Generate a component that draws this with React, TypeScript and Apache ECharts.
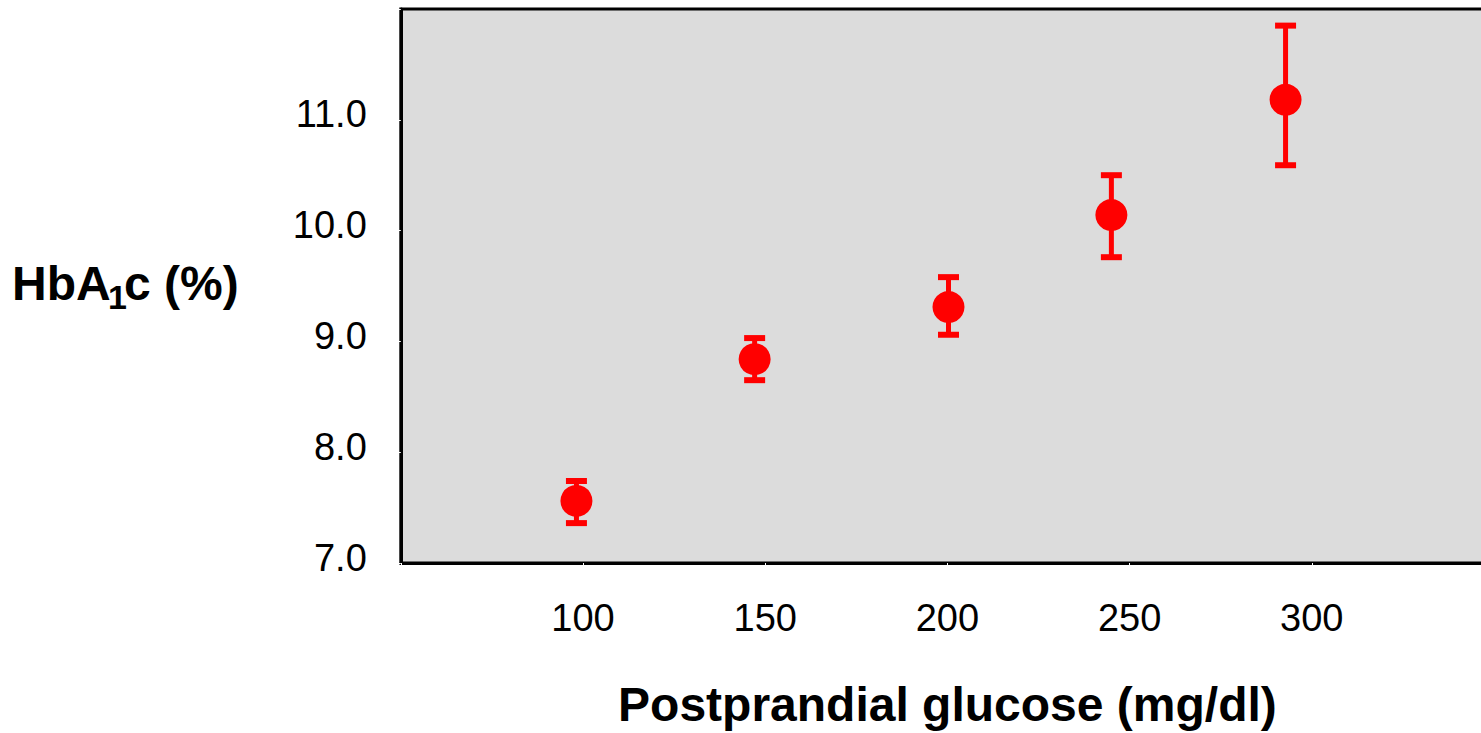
import React, { useEffect, useRef } from "react";
import * as echarts from "echarts";

// Postprandial glucose groups (mg/dl) and HbA1c mean with interval limits (%)
const glucose = [98.2, 147.1, 200.3, 245.0, 292.8];
const hba1cMean = [7.56, 8.84, 9.31, 10.14, 11.18];
const hba1cLow = [7.36, 8.65, 9.06, 9.76, 10.59];
const hba1cHigh = [7.74, 9.03, 9.58, 10.5, 11.85];

const xTicks = [100, 150, 200, 250, 300];
const yTicks = [7, 8, 9, 10, 11];

const FONT = "'Liberation Sans', Arial, Helvetica, sans-serif";
const RED = "#ff0000";

export default function App() {
  const ref = useRef<HTMLDivElement>(null);

  useEffect(() => {
    if (!ref.current) return;
    const chart = echarts.init(ref.current, undefined, { renderer: "svg" });

    const meanData = glucose.map((g, i) => [g, hba1cMean[i]]);
    const barData = glucose.map((g, i) => [g, hba1cLow[i], hba1cHigh[i]]);

    chart.setOption({
      animation: false,
      backgroundColor: "#ffffff",
      grid: {
        left: 400.8,
        width: 1095.5,
        top: 9,
        height: 556.5,
        show: true,
        backgroundColor: "#dcdcdc",
        borderColor: "#000000",
        borderWidth: 3,
      },
      xAxis: {
        type: "value",
        min: 50,
        max: 350,
        interval: 50,
        splitLine: { show: false },
        axisLine: { show: true, lineStyle: { color: "#000000", width: 3 } },
        axisTick: { show: true, length: 2, lineStyle: { color: "#ffffff", width: 1 } },
        axisLabel: {
          color: "#000000",
          fontFamily: FONT,
          fontSize: 38,
          margin: 36,
          formatter: (v: number) => (xTicks.includes(v) ? String(v) : ""),
        },
        name: "Postprandial glucose (mg/dl)",
        nameLocation: "middle",
        nameGap: 117,
        nameTextStyle: {
          color: "#000000",
          fontFamily: FONT,
          fontSize: 48,
          fontWeight: "bold",
        },
      },
      yAxis: {
        type: "value",
        min: 7,
        max: 12,
        interval: 1,
        splitLine: { show: false },
        axisLine: { show: true, lineStyle: { color: "#000000", width: 3 } },
        axisTick: { show: true, length: 2, lineStyle: { color: "#ffffff", width: 1 } },
        axisLabel: {
          color: "#000000",
          fontFamily: FONT,
          fontSize: 38,
          margin: 34,
          verticalAlign: "bottom",
          lineHeight: 11,
          formatter: (v: number) => (yTicks.includes(v) ? v.toFixed(1) : ""),
        },
      },
      graphic: [
        {
          type: "text",
          style: {
            text: "HbA",
            x: 12,
            y: 283,
            font: `bold 48px ${FONT}`,
            fill: "#000000",
            verticalAlign: "middle",
          },
        },
        {
          type: "text",
          style: {
            text: "1",
            x: 108,
            y: 297,
            font: `bold 34px ${FONT}`,
            fill: "#000000",
            verticalAlign: "middle",
          },
        },
        {
          type: "text",
          style: {
            text: "c (%)",
            x: 124,
            y: 283,
            font: `bold 48px ${FONT}`,
            fill: "#000000",
            verticalAlign: "middle",
          },
        },
      ],
      series: [
        {
          type: "custom",
          data: barData,
          encode: { x: 0, y: [1, 2] },
          z: 2,
          renderItem: (_params: any, api: any) => {
            const x = api.value(0);
            const top = api.coord([x, api.value(2)]);
            const bot = api.coord([x, api.value(1)]);
            const half = 10.5;
            const style = { stroke: RED, lineWidth: 5 };
            const capStyle = { stroke: RED, lineWidth: 6 };
            return {
              type: "group",
              children: [
                { type: "line", shape: { x1: top[0], y1: top[1], x2: bot[0], y2: bot[1] }, style },
                { type: "line", shape: { x1: top[0] - half, y1: top[1], x2: top[0] + half, y2: top[1] }, style: capStyle },
                { type: "line", shape: { x1: bot[0] - half, y1: bot[1], x2: bot[0] + half, y2: bot[1] }, style: capStyle },
              ],
            };
          },
        },
        {
          type: "scatter",
          data: meanData,
          symbol: "circle",
          symbolSize: 32,
          z: 3,
          itemStyle: { color: RED, opacity: 1 },
        },
      ],
    });

    return () => chart.dispose();
  }, []);

  // The plot frame runs past the right edge of the view, so the chart is
  // drawn wider than its clipping wrapper.
  return (
    <div
      style={{
        position: "absolute",
        left: 0,
        top: 0,
        width: 1481,
        height: 733,
        overflow: "hidden",
      }}
    >
      <div ref={ref} style={{ width: 1497, height: 733 }} />
    </div>
  );
}
